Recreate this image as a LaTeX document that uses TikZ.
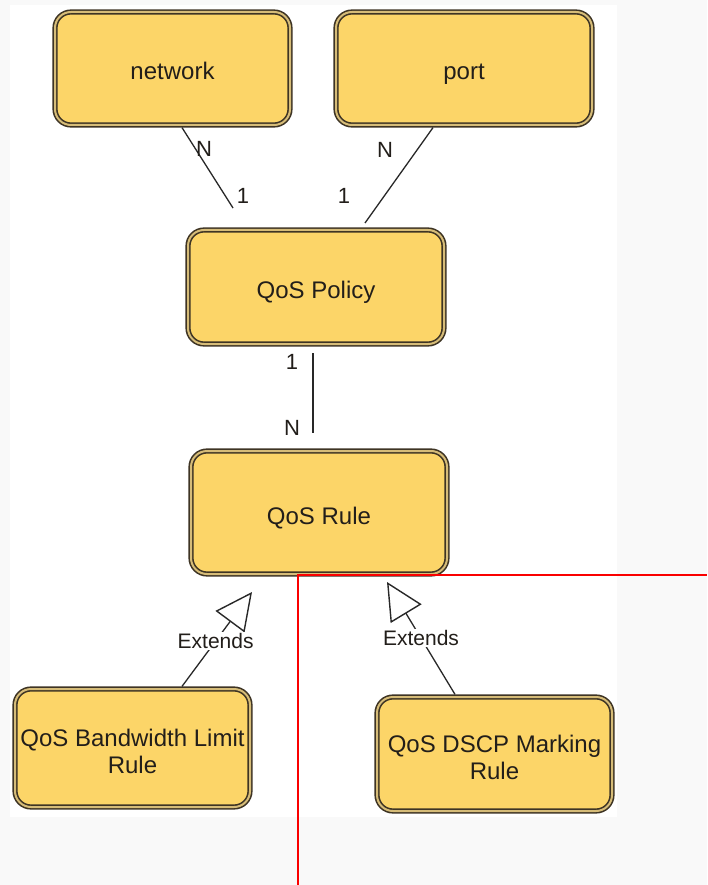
\documentclass[tikz,border=0pt]{standalone}
\usepackage{fontspec}
\setmainfont{Liberation Sans}
\usetikzlibrary{arrows.meta}
\definecolor{boxfill}{RGB}{252,213,104}
\definecolor{boxline}{RGB}{62,52,36}
\definecolor{boxgap}{RGB}{214,188,120}
\definecolor{ink}{RGB}{34,30,26}
\definecolor{pagegray}{RGB}{249,249,249}
\definecolor{linkgray}{RGB}{40,40,40}
\definecolor{markred}{RGB}{250,0,0}
% struts that place the entity names a little below the box centre
\newcommand\entup{\rule{0pt}{28pt}}
\newcommand\entdown{\rule[-5pt]{0pt}{5pt}}

\begin{document}
\begin{tikzpicture}[x=1pt,y=-1pt,
  entity/.style={rectangle, draw=boxline, double=boxgap, double distance=2pt,
    line width=1.6pt, fill=boxfill, rounded corners=16pt, inner sep=0pt,
    outer sep=2.6pt, align=center, text=ink, font=\fontsize{24}{27}\selectfont},
  link/.style={draw=linkgray, line width=1.3pt},
  card/.style={font=\fontsize{22}{26}\selectfont, text=ink, inner sep=0pt},
  ext/.style={link, -{Triangle[open, length=37pt, width=36pt, line width=1.4pt]}},
  extlabel/.style={fill=white, inner sep=1.5pt, font=\fontsize{21}{24}\selectfont, text=ink}]

% page and canvas
\useasboundingbox (0,0) rectangle (707,885);
\fill[pagegray] (0,0) rectangle (707,885);
\fill[white] (10,5) rectangle (617,817);

% entities
\node[entity, minimum width=235pt, minimum height=113pt] (network) at (172.5,68.5) {\entup network\entdown};
\node[entity, minimum width=256pt, minimum height=113pt] (port) at (464,68.5) {\entup port\entdown};
\node[entity, minimum width=256pt, minimum height=114pt] (policy) at (316,287) {\entup QoS Policy\entdown};
\node[entity, minimum width=256pt, minimum height=123pt] (rule) at (319,512.5) {\entup QoS Rule\entdown};
\node[entity, minimum width=235pt, minimum height=118pt] (bw) at (132.5,748) {\entup QoS Bandwidth Limit\\Rule\entdown};
\node[entity, minimum width=235pt, minimum height=114pt] (dscp) at (494.5,754) {\entup QoS DSCP Marking\\Rule\entdown};

% free ends of the associations
\coordinate (netend) at (233,208);
\coordinate (portend) at (365,223);
\coordinate (lefttip) at (252,592);
\coordinate (righttip) at (387,582);

% associations
\draw[link] ([xshift=9.5pt]network.south) -- (netend);
\draw[link] ([xshift=-31pt]port.south) -- (portend);
\draw[link] ([xshift=-3pt,yshift=-6.4pt]policy.south) -- ([xshift=-6pt,yshift=15.4pt]rule.north);

% multiplicities
\node[card] (netN) at (204,149) {N};
\node[card] (net1) at (243,196) {1};
\node[card] (portN) at (385,150) {N};
\node[card] (port1) at (344,196) {1};
\node[card] (rule1) at (292,362) {1};
\node[card] (ruleN) at (292,428) {N};

% generalisations
\draw[ext] ([xshift=49.5pt]bw.north) -- node[extlabel, pos=0.48] (extleft) {Extends} (lefttip);
\draw[ext] ([xshift=-39.5pt]dscp.north) -- node[extlabel, pos=0.5] (extright) {Extends} (righttip);

% red guide lines
\draw[markred, line width=2pt] (298,885) -- (298,575) -- (707,575);
\end{tikzpicture}
\end{document}
